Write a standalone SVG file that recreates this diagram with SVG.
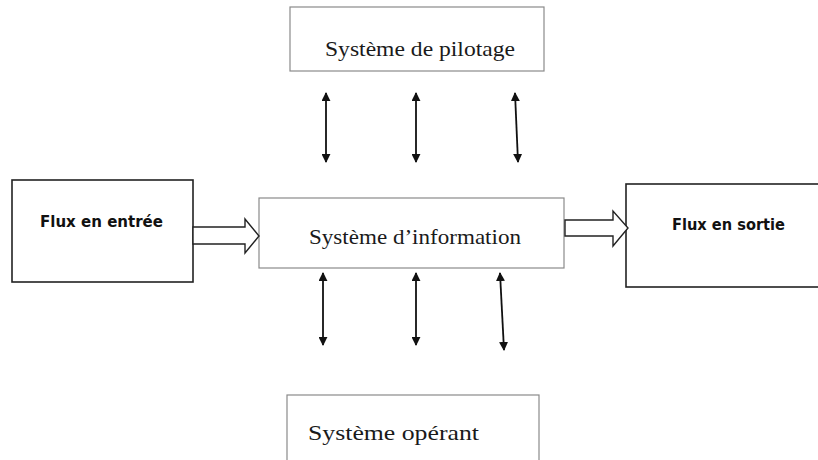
<svg xmlns="http://www.w3.org/2000/svg" width="818" height="460" viewBox="0 0 818 460">
  <defs>
    <style>
      .box-thin { fill: #ffffff; stroke: #8a8a8a; stroke-width: 1.2; }
      .box-bold { fill: #ffffff; stroke: #222222; stroke-width: 1.6; }
      .serif { font-family: "Liberation Serif", "Times New Roman", serif; font-size: 21px; fill: #1a1a1a; }
      .sans-bold { font-family: "DejaVu Sans", Verdana, sans-serif; font-weight: bold; font-size: 15px; fill: #111111; }
      .link { stroke: #111111; stroke-width: 1.8; fill: none; marker-start: url(#tip); marker-end: url(#tip); }
      .flow { fill: #ffffff; stroke: #222222; stroke-width: 1.4; stroke-linejoin: miter; }
    </style>
    <marker id="tip" viewBox="0 0 10 10" refX="9" refY="5" markerWidth="9" markerHeight="9" orient="auto-start-reverse" markerUnits="userSpaceOnUse">
      <path d="M0,0 L10,5 L0,10 Z" fill="#111111"/>
    </marker>
  </defs>

  <rect width="818" height="460" fill="#ffffff"/>

  <g id="pilotage">
    <rect class="box-thin" x="290" y="7" width="254" height="64"/>
    <text class="serif" x="325" y="56" textLength="190" lengthAdjust="spacingAndGlyphs">Système de pilotage</text>
  </g>

  <g id="information">
    <rect class="box-thin" x="259" y="198" width="305" height="70"/>
    <text class="serif" x="309" y="244" textLength="212" lengthAdjust="spacingAndGlyphs">Système d’information</text>
  </g>

  <g id="operant">
    <rect class="box-thin" x="287" y="395" width="252" height="70"/>
    <text class="serif" x="308" y="440" textLength="171" lengthAdjust="spacingAndGlyphs">Système opérant</text>
  </g>

  <g id="entree">
    <rect class="box-bold" x="12" y="180" width="181" height="102"/>
    <text class="sans-bold" x="40" y="227" textLength="123" lengthAdjust="spacingAndGlyphs">Flux en entrée</text>
  </g>

  <g id="sortie">
    <rect class="box-bold" x="626" y="184" width="200" height="103"/>
    <text class="sans-bold" x="672" y="230" textLength="113" lengthAdjust="spacingAndGlyphs">Flux en sortie</text>
  </g>

  <g id="connectors">
    <!-- hollow flow arrows -->
    <path class="flow" d="M193,227 L245,227 L245,219 L259,236 L245,253 L245,244 L193,244 Z"/>
    <path class="flow" d="M565,220 L613,220 L613,211 L628,228 L613,246 L613,236 L565,236 Z"/>

    <!-- pilotage / information exchanges -->
    <line class="link" x1="326" y1="93" x2="326" y2="162"/>
    <line class="link" x1="416" y1="93" x2="416" y2="162"/>
    <line class="link" x1="515" y1="93" x2="518" y2="162"/>

    <!-- information / operant exchanges -->
    <line class="link" x1="323" y1="273" x2="323" y2="345"/>
    <line class="link" x1="416" y1="273" x2="416" y2="345"/>
    <line class="link" x1="500" y1="273" x2="504" y2="350"/>
  </g>
</svg>
